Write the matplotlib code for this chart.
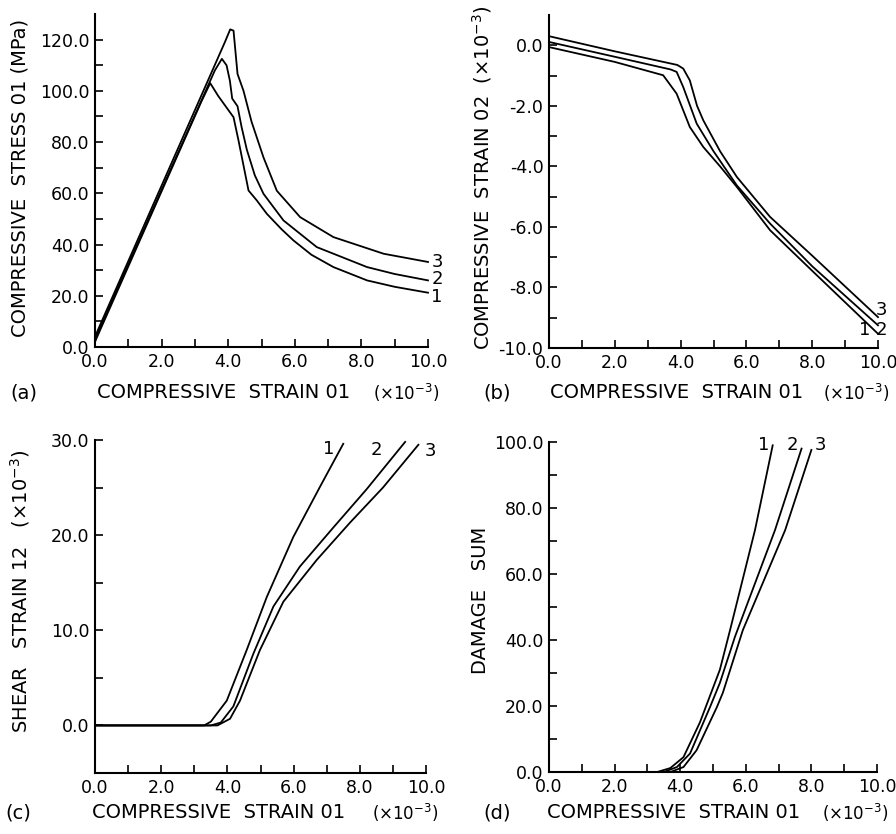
import numpy as np
import matplotlib
matplotlib.use("Agg")
import matplotlib.pyplot as plt

# (a) compressive stress 01 (MPa) vs compressive strain 01 (x10^-3)
a1_x = [0, 0.15, 3.2, 3.46, 3.7, 4.16, 4.31, 4.51, 4.61, 4.86, 5.16, 5.6, 5.96, 6.5, 7.16, 8.17, 9.0, 10.0]
a1_y = [2, 6.5, 96, 103, 98, 89.7, 80.6, 67.6, 61.1, 57.2, 52, 46, 41.6, 36, 31.2, 26, 23.5, 21.2]
a2_x = [0, 0.15, 3.6, 3.81, 3.95, 4.05, 4.12, 4.28, 4.4, 4.56, 4.8, 5.06, 5.66, 6.66, 8.17, 9.0, 10.0]
a2_y = [3, 7.5, 108, 112.5, 110, 104, 97, 94, 86, 77, 67, 59.8, 49.4, 39, 31.2, 28.5, 26]
a3_x = [0, 0.15, 3.9, 4.06, 4.16, 4.28, 4.46, 4.7, 5.06, 5.46, 6.16, 7.16, 8.67, 10.0]
a3_y = [4, 8.5, 119, 124, 123.5, 106.6, 100, 88, 74, 61, 50.7, 42.9, 36.4, 33.2]

# (b) compressive strain 02 (x10^-3)
b1_x = [0, 2, 3.47, 3.88, 4.28, 4.69, 5.2, 5.71, 6.72, 8, 10]
b1_y = [-0.06, -0.55, -0.99, -1.6, -2.7, -3.36, -4.0, -4.68, -6.11, -7.45, -9.53]
b2_x = [0, 2, 3.7, 3.88, 4.08, 4.49, 5.0, 5.71, 6.72, 8, 10]
b2_y = [0.11, -0.38, -0.8, -0.88, -1.38, -2.59, -3.5, -4.63, -5.89, -7.3, -9.25]
b3_x = [0, 2, 3.9, 4.08, 4.28, 4.5, 4.69, 5.2, 5.71, 6.72, 8, 10]
b3_y = [0.3, -0.2, -0.65, -0.77, -1.16, -2.0, -2.48, -3.5, -4.35, -5.67, -6.95, -8.98]

# (c) shear strain 12 (x10^-3)
c1_x = [0, 3.3, 3.5, 3.98, 4.58, 5.19, 5.99, 6.8, 7.5]
c1_y = [0, 0, 0.4, 2.6, 7.9, 13.5, 19.8, 25.1, 29.6]
c2_x = [0, 3.5, 3.8, 4.18, 4.78, 5.39, 6.19, 7.2, 8.2, 9.37]
c2_y = [0, 0, 0.3, 2.0, 7.5, 12.5, 16.7, 20.8, 24.8, 29.8]
c3_x = [0, 3.7, 4.08, 4.38, 4.98, 5.69, 6.7, 7.7, 8.7, 9.77]
c3_y = [0, 0, 0.7, 2.6, 7.9, 13.0, 17.4, 21.3, 25.0, 29.5]

# (d) damage sum
d1_x = [0, 3.3, 3.7, 4.1, 4.6, 5.21, 5.52, 6.28, 6.82]
d1_y = [0, 0, 1.2, 4.5, 15, 31, 43, 73.3, 99]
d2_x = [0, 3.5, 3.9, 4.3, 4.91, 5.21, 5.67, 6.89, 7.7]
d2_y = [0, 0, 1.5, 5.6, 19.7, 27, 41, 73.3, 98]
d3_x = [0, 3.7, 4.1, 4.5, 5.12, 5.3, 5.91, 7.2, 8.0]
d3_y = [0, 0, 1.5, 6.6, 19.7, 24, 43, 73.3, 97.6]

curve_names = ['1', '2', '3']

W, H = 896, 834
fig = plt.figure(figsize=(W / 100, H / 100), dpi=100)


def px_axes(left, top, right, bottom):
    return fig.add_axes([left / W, 1 - bottom / H, (right - left) / W, (bottom - top) / H])


def style(ax, ylim, yminor, ymajor, ylabels):
    ax.set_xlim(0, 10)
    ax.set_ylim(*ylim)
    for s in ['top', 'right']:
        ax.spines[s].set_visible(False)
    for s in ['left', 'bottom']:
        ax.spines[s].set_linewidth(1.5)
    ax.set_xticks(np.arange(0, 11, 2))
    ax.set_xticklabels(['%.1f' % v for v in np.arange(0, 11, 2)])
    ax.set_xticks(np.arange(0, 11, 1), minor=True)
    ax.set_yticks(ymajor)
    ax.set_yticklabels(ylabels)
    ax.set_yticks(yminor, minor=True)
    ax.tick_params(which='both', direction='in', length=6, width=1.2, labelsize=12.5, pad=4)
    ax.patch.set_alpha(0)


kw = dict(color='black', lw=1.3, clip_on=False)

# (a)
ax = px_axes(95, 14, 428, 347)
for x, y in [(a1_x, a1_y), (a2_x, a2_y), (a3_x, a3_y)]:
    ax.plot(x, y, **kw)
style(ax, (0, 130), np.arange(0, 121, 10), np.arange(0, 121, 20),
      ['%.1f' % v for v in np.arange(0, 121, 20)])
for n, yy in zip(curve_names, [19.5, 26.5, 33]):
    ax.text(10.27, yy, n, fontsize=13, ha='center', va='center')

# (b)
ax = px_axes(549, 15, 878, 348)
for x, y in [(b1_x, b1_y), (b2_x, b2_y), (b3_x, b3_y)]:
    ax.plot(x, y, **kw)
style(ax, (-10, 1), np.arange(-10, 1, 1), np.arange(-10, 1, 2),
      ['-%.1f' % -v if v < 0 else '%.1f' % v for v in np.arange(-10, 1, 2)])
ax.text(9.61, -9.42, '1', fontsize=13, ha='center', va='center')
ax.text(10.1, -9.42, '2', fontsize=13, ha='center', va='center')
ax.text(10.1, -8.76, '3', fontsize=13, ha='center', va='center')

# (c)
ax = px_axes(95, 440, 426, 773)
for x, y in [(c1_x, c1_y), (c2_x, c2_y), (c3_x, c3_y)]:
    ax.plot(x, y, **kw)
style(ax, (-5, 30), np.arange(-5, 31, 5), np.arange(0, 31, 10),
      ['%.1f' % v for v in np.arange(0, 31, 10)])
for n, xx, yy in zip(curve_names, [7.05, 8.5, 10.12], [29.1, 29.0, 28.8]):
    ax.text(xx, yy, n, fontsize=13, ha='center', va='center')

# (d)
ax = px_axes(549, 442, 877, 772)
for x, y in [(d1_x, d1_y), (d2_x, d2_y), (d3_x, d3_y)]:
    ax.plot(x, y, **kw)
style(ax, (0, 100), np.arange(0, 101, 10), np.arange(0, 101, 20),
      ['%.1f' % v for v in np.arange(0, 101, 20)])
for n, xx in zip(curve_names, [6.55, 7.42, 8.27]):
    ax.text(xx, 99, n, fontsize=13, ha='center', va='center')

# axis labels
fs = 14
for tag, x0, xl, xu, yy in [('(a)', 10, 97, 373, 393), ('(b)', 483, 550, 823, 393),
                            ('(c)', 5, 92, 372, 813), ('(d)', 483, 547, 822, 813)]:
    fig.text(x0 / W, 1 - yy / H, tag, fontsize=fs, va='center')
    fig.text(xl / W, 1 - yy / H, 'COMPRESSIVE  STRAIN 01', fontsize=fs, va='center')
    fig.text(xu / W, 1 - yy / H, '(×10$^{-3}$)', fontsize=12, va='center')

fig.text(20 / W, 1 - 178 / H, 'COMPRESSIVE  STRESS 01 (MPa)', fontsize=fs, rotation=90, ha='center', va='center')
fig.text(482 / W, 1 - 178 / H, 'COMPRESSIVE  STRAIN 02  (×10$^{-3}$)', fontsize=fs, rotation=90, ha='center', va='center')
fig.text(20 / W, 1 - 591 / H, 'SHEAR   STRAIN 12   (×10$^{-3}$)', fontsize=fs, rotation=90, ha='center', va='center')
fig.text(480 / W, 1 - 600 / H, 'DAMAGE   SUM', fontsize=fs, rotation=90, ha='center', va='center')

fig.savefig('out.png', dpi=100)
